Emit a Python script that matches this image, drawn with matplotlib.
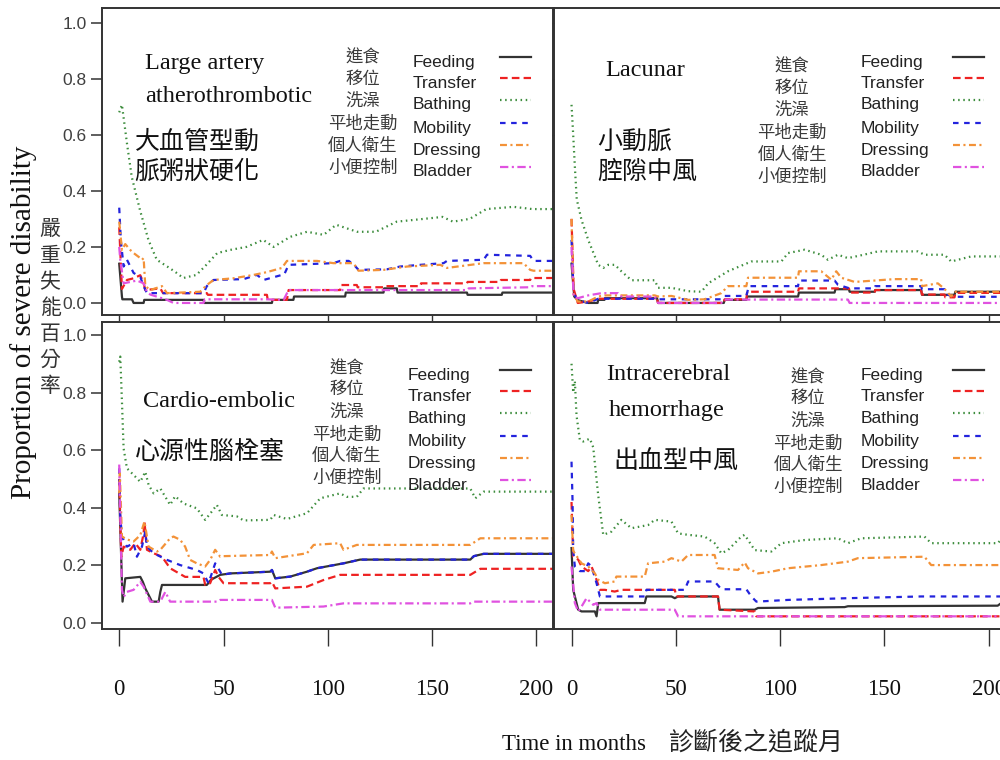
"""Severe disability proportion by stroke subtype, six ADL items (2x2 panels)."""

import matplotlib
matplotlib.use("Agg")
import matplotlib.pyplot as plt
from matplotlib import font_manager
from matplotlib.lines import Line2D

W, H = 1000, 760

# (months, proportion) vertices
TL_FEEDING = [(0, .14), (1.3, .023), (1.5, .013), (6.1, .013), (6.9, 0), (11.7, 0), (12, .011), (40.4, .011),
              (40.8, 0), (73.2, 0), (73.5, .011), (83.5, .011), (83.8, .023), (108.3, .023), (108.6, .037),
              (126.7, .037), (127, .052), (133.1, .052), (133.4, .037), (166.7, .037), (167, .029),
              (183.4, .029), (183.7, .037), (210, .037)]
TL_TRANSFER = [(0, .27), (1.3, .05), (3.7, .082), (6.9, .088), (10.1, .099), (11.7, .07), (12.5, .046),
               (19.7, .052), (21, .035), (42, .035), (42.5, .029), (70.8, .029), (71.2, .011), (80.4, .011),
               (81.2, .046), (105.9, .046), (106.3, .064), (113.9, .064), (114.3, .056), (126.7, .056),
               (127, .06), (144.3, .06), (144.7, .07), (166.7, .07), (167, .075), (182.6, .075), (183, .082),
               (197, .082), (197.4, .089), (210, .089)]
TL_BATHING = [(0, .68), (1.3, .707), (3.7, .57), (6, .45), (10, .33), (14, .225), (18, .154), (23, .13),
              (27, .11), (30.7, .089), (37, .1), (41, .13), (47, .178), (53, .189), (61, .2), (69, .225),
              (74, .2), (82, .236), (90, .254), (98, .243), (104, .279), (114, .254), (123, .254), (133, .29),
              (146, .30), (155, .307), (160, .29), (168, .30), (176, .335), (189, .343), (198, .335), (210, .335)]
TL_MOBILITY = [(0, .34), (0.8, .22), (2.1, .13), (3.7, .154), (6.9, .107), (10.1, .093), (11.7, .06),
               (13.3, .035), (40.4, .035), (42, .06), (45.2, .082), (59.6, .085), (66, .1), (69.2, .082),
               (78, .1), (79, .1), (81.2, .136), (102.7, .142), (105.9, .15), (110, .15), (112.3, .138),
               (114.7, .118), (128.3, .12), (134.7, .13), (144.3, .136), (155.5, .142), (157.1, .15),
               (174.7, .154), (176.3, .172), (197, .168), (198.6, .15), (210, .15)]
TL_DRESSING = [(0, .29), (1.3, .189), (2.9, .21), (5.3, .189), (6.9, .178), (10.1, .16), (10.9, .154),
               (11.7, .16), (12.5, .06), (14.9, .046), (20.5, .06), (22.9, .035), (38.8, .04), (42, .064),
               (45.2, .082), (54.8, .088), (64.4, .1), (70.8, .11), (78, .125), (80.4, .15), (94.8, .15),
               (102.7, .142), (112.3, .142), (114.7, .115), (126.7, .118), (138, .13), (153.9, .136),
               (157.1, .125), (174.7, .142), (193.8, .142), (197, .118), (198.6, .115), (210, .115)]
TL_BLADDER = [(0, .2), (0.5, .154), (2.1, .07), (5.3, .075), (8.5, .08), (11.7, .07), (13.3, .04), (14.9, .03),
              (22.9, .011), (26, 0), (40.4, 0), (41, .013), (70.8, .013), (78.8, .011), (81.2, .046),
              (166.7, .046), (167.5, .052), (197, .056), (198, .06), (210, .06)]

TR_FEEDING = [(0, .14), (1.3, .023), (3, .01), (8, 0), (12.5, 0), (12.8, .011), (15.8, .011), (16, .017),
              (41, .017), (41.5, 0), (73, 0), (73.4, .011), (83.8, .011), (84.2, .023), (108.6, .023),
              (109, .037), (126.1, .037), (126.5, .049), (133, .049), (133.3, .04), (145.3, .04), (145.6, .046),
              (167.6, .046), (168, .029), (183.6, .029), (184, .04), (210, .04)]
TR_TRANSFER = [(0, .30), (1, .05), (3, 0), (8, .005), (12.8, .015), (41, .015), (41.5, 0), (73, 0),
               (73.4, .013), (83.8, .013), (84.2, .04), (108.6, .04), (109, .052), (133, .052), (133.3, .037),
               (145.3, .037), (145.6, .046), (167.6, .046), (168, .03), (178.8, .03), (179.2, .02), (183.6, .02),
               (184, .036), (210, .036)]
TR_BATHING = [(0, .707), (0.8, .6), (1.6, .486), (2.5, .37), (4.8, .296), (8, .225), (12.8, .136),
              (15.2, .125), (17.6, .136), (20.8, .136), (23.9, .113), (28.7, .081), (39.9, .081), (41.5, .054),
              (47.9, .054), (55.9, .042), (62.3, .04), (65.5, .07), (75, .113), (86.2, .148), (100.6, .148),
              (103.8, .178), (111.8, .19), (119.7, .172), (122.9, .154), (127.7, .172), (132.5, .16),
              (140, .172), (146.9, .184), (166, .184), (169.2, .172), (178.8, .172), (182, .148),
              (191.6, .166), (210, .166)]
TR_MOBILITY = [(0, .225), (1, .035), (3, .01), (8, 0), (12.8, .015), (39.9, .015), (41.5, .013), (71.8, .013),
               (73.4, .025), (83.8, .025), (85, .06), (108.6, .06), (109, .08), (126.1, .08), (127.7, .065),
               (133.3, .052), (145.3, .052), (145.6, .06), (167.6, .06), (168, .049), (178.8, .049),
               (180.4, .029), (183.6, .022), (210, .022)]
TR_DRESSING = [(0, .30), (1, .03), (3, .005), (8, .005), (12.8, .023), (16, .027), (39.9, .027), (41.5, .023),
               (47.9, .025), (55.9, .011), (63.8, .013), (71.8, .035), (75, .06), (83.8, .06), (84.6, .09),
               (108.6, .09), (109, .113), (119.7, .113), (124.5, .083), (126.9, .113), (129.3, .09),
               (135.7, .075), (145.3, .08), (154.8, .085), (167.6, .085), (168, .06), (175.6, .07),
               (178.8, .05), (182, .023), (183.6, .04), (210, .04)]
TR_BLADDER = [(0, .2), (1, .023), (3, .017), (8, .027), (14.4, .035), (22.3, .035), (23.9, .023), (39.9, .023),
              (41.5, 0), (71.8, 0), (73.4, .012), (132.5, .012), (133.3, 0), (210, 0)]

BL_FEEDING = [(0, .45), (1.6, .074), (2.9, .155), (10.1, .16), (11.3, .143), (12.5, .12), (15.7, .074),
              (18.9, .074), (19.7, .108), (20.5, .132), (42, .132), (44, .15), (48.4, .167), (53.2, .172),
              (72.4, .178), (73.2, .184), (74.8, .155), (82, .161), (90, .178), (94.8, .19), (107.5, .207),
              (115.5, .22), (168.3, .22), (170, .232), (174.7, .24), (210, .24)]
BL_TRANSFER = [(0, .5), (1, .23), (2.1, .265), (5.3, .254), (7.7, .277), (10.1, .254), (11.7, .311),
               (12.1, .352), (13.3, .254), (16.5, .242), (20.5, .23), (24.4, .19), (31.6, .16), (40.4, .16),
               (41.2, .132), (43.6, .138), (46, .184), (47.6, .16), (50, .138), (72.4, .138), (73.2, .143),
               (74.8, .12), (90, .126), (97.9, .149), (105.9, .167), (168.3, .167), (173.1, .188), (210, .188)]
BL_BATHING = [(0, .907), (0.5, .925), (1.3, .77), (2.1, .606), (3.7, .537), (6.9, .514), (10.1, .49),
              (12.5, .525), (14.1, .479), (16.5, .45), (19.7, .467), (24.4, .41), (26.8, .44), (30.8, .415),
              (37.2, .398), (41.2, .358), (44.4, .387), (46.8, .41), (49.2, .375), (56.4, .37), (59.6, .356),
              (72.4, .358), (74, .375), (80.4, .361), (90, .381), (96.4, .433), (105.9, .45), (109.1, .438),
              (113.9, .438), (117.1, .467), (168.3, .467), (170.7, .433), (174.7, .456), (210, .456)]
BL_MOBILITY = [(0, .537), (0.5, .37), (1.3, .30), (3.7, .265), (6.9, .277), (8.5, .23), (10.9, .265),
               (12.5, .317), (13.3, .265), (16.5, .242), (22.9, .219), (29.2, .201), (37.2, .184), (40.4, .172),
               (42.8, .138), (46, .207), (48.4, .178), (49.2, .167), (53.2, .172), (72.4, .178), (73.2, .184),
               (74.8, .155), (82, .161), (90, .178), (94.8, .19), (107.5, .207), (115.5, .22), (168.3, .22),
               (170, .232), (174.7, .24), (210, .24)]
BL_DRESSING = [(0, .45), (0.3, .52), (1.3, .30), (3.7, .29), (6.9, .283), (10.1, .305), (12.1, .352),
               (14.1, .265), (18.1, .248), (19.7, .254), (24.4, .294), (26, .3), (29.2, .289), (31.6, .265),
               (34, .219), (37.2, .207), (41.2, .196), (43.6, .219), (46, .254), (48.4, .23), (50, .232),
               (72.4, .236), (73.2, .248), (74.8, .225), (90, .242), (93.2, .271), (105.9, .277), (107.5, .254),
               (113.9, .271), (168.3, .271), (173.1, .294), (210, .294)]
BL_BLADDER = [(0, .55), (1.3, .115), (2.1, .09), (3.7, .108), (6.9, .115), (10.1, .143), (11.7, .126),
              (14.9, .074), (19.7, .074), (22.1, .108), (24.4, .074), (46.8, .074), (48.4, .08), (73.2, .08),
              (74.8, .053), (97.9, .057), (107.5, .068), (168.3, .068), (169.9, .074), (210, .074)]

BR_FEEDING = [(0, .26), (0.8, .115), (1.6, .092), (3.2, .046), (4.8, .04), (11.2, .04), (12, .023),
              (12.8, .069), (35.1, .069), (35.9, .092), (47.9, .092), (49.5, .086), (51.1, .092), (70.2, .092),
              (71, .046), (87.8, .046), (89.4, .052), (130.9, .055), (132.5, .058), (204.3, .06), (206, .069),
              (210, .069)]
BR_TRANSFER = [(0, .42), (0.8, .23), (3.2, .22), (4.8, .196), (8, .18), (9.6, .196), (12, .15), (13.6, .115),
               (16, .115), (20.7, .109), (23.9, .115), (49.5, .115), (50.3, .092), (70.2, .092), (71, .046),
               (87.8, .04), (88.6, .023), (210, .023)]
BR_BATHING = [(0, .90), (0.8, .80), (1.6, .84), (2.4, .72), (4, .635), (5.6, .63), (8.8, .64), (10.4, .61),
              (12.8, .443), (15.2, .306), (19.1, .317), (23.9, .358), (28.7, .329), (36.7, .34), (39.9, .358),
              (47.9, .352), (51.1, .311), (55.9, .306), (63.8, .3), (68.6, .277), (71.8, .242), (75, .253),
              (81.4, .3), (83, .306), (87.8, .253), (95.8, .248), (100.6, .277), (111.8, .288), (127.7, .294),
              (132.5, .277), (138.9, .294), (169.2, .3), (172.4, .277), (204.3, .277), (206, .29), (210, .29)]
BR_MOBILITY = [(0, .56), (0.5, .42), (0.8, .25), (1.6, .196), (4, .18), (6.4, .18), (8, .207), (9.6, .196),
               (12, .138), (13.6, .092), (35.1, .092), (35.9, .115), (54.3, .115), (55.9, .144), (68.6, .144),
               (71.8, .117), (83.8, .117), (86.2, .092), (88.6, .074), (103.8, .08), (132.5, .086),
               (167.6, .092), (210, .092)]
BR_DRESSING = [(0, .375), (0.8, .25), (4.8, .207), (8, .196), (11.2, .172), (12.8, .15), (16, .138),
               (20.7, .144), (21.5, .161), (35.1, .161), (36.7, .207), (44.7, .213), (47.9, .225), (52.7, .213),
               (55.9, .236), (68.6, .236), (70.2, .19), (79.8, .184), (83, .21), (84.6, .19), (89.4, .172),
               (95.8, .178), (103.8, .19), (119.7, .201), (132.5, .213), (137.3, .225), (169.2, .23),
               (172.4, .201), (210, .201)]
BR_BLADDER = [(0, .196), (1.6, .069), (3.2, .04), (4.8, .057), (7.2, .086), (8, .08), (10.4, .063), (12, .069),
              (13.6, .046), (49.5, .046), (51.1, .023), (210, .023)]

ITEMS_EN = ["Feeding", "Transfer", "Bathing", "Mobility", "Dressing", "Bladder"]
ITEMS_ZH = ["進食", "移位", "洗澡", "平地走動", "個人衛生", "小便控制"]
X_TICKS = [0, 50, 100, 150, 200]
Y_TICKS = [0.0, 0.2, 0.4, 0.6, 0.8, 1.0]
Y_TICK_LABELS = ["0.0", "0.2", "0.4", "0.6", "0.8", "1.0"]

COLORS = ["#333333", "#ee2222", "#3d8d3d", "#2323dd", "#f39238", "#e052e0"]
STYLES = ["-", (0, (5.5, 3)), (0, (1.1, 2.6)), (0, (4, 4)), (0, (5, 2.5, 1.5, 2.5)), (0, (6, 2.5, 1.5, 2.5))]

names = {f.name for f in font_manager.fontManager.ttflist}
NARROW = "Liberation Sans Narrow" in names
SANS = ["Liberation Sans Narrow"] if NARROW else ["Liberation Sans", "DejaVu Sans"]
SERIF = ["Liberation Serif", "DejaVu Serif"]
CJK = ["Noto Sans CJK TC", "DejaVu Sans"]
LEG_SIZE = 15 if NARROW else 12.5
YT_SIZE = 14 if NARROW else 12.5

plt.rcParams["lines.scale_dashes"] = False

# panel layout in pixels: left, top, right, bottom; texts are offsets from the panel's top-left
PANELS = [
    dict(rect=(101.7, 8, 552.7, 315), ylim=(-0.043, 1.0525), ylab=True, xlab=False,
         series=[TL_FEEDING, TL_TRANSFER, TL_BATHING, TL_MOBILITY, TL_DRESSING, TL_BLADDER],
         en=[("Large artery", 43, 55), ("atherothrombotic", 43, 89)],
         zh=[("大血管型動", 33, 134), ("脈粥狀硬化", 33, 164)],
         leg_en=(311, 54), leg_zh=(261, 50), leg_ln=(398, 49)),
    dict(rect=(554, 8, 1005, 315), ylim=(-0.043, 1.0525), ylab=False, xlab=False,
         series=[TR_FEEDING, TR_TRANSFER, TR_BATHING, TR_MOBILITY, TR_DRESSING, TR_BLADDER],
         en=[("Lacunar", 51, 62)],
         zh=[("小動脈", 43, 135), ("腔隙中風", 43, 164)],
         leg_en=(307, 54), leg_zh=(238, 59), leg_ln=(399, 49)),
    dict(rect=(101.7, 322.3, 552.7, 629), ylim=(-0.021, 1.044), ylab=True, xlab=True,
         series=[BL_FEEDING, BL_TRANSFER, BL_BATHING, BL_MOBILITY, BL_DRESSING, BL_BLADDER],
         en=[("Cardio-embolic", 41, 79)],
         zh=[("心源性腦栓塞", 33, 130)],
         leg_en=(306, 53), leg_zh=(245, 46), leg_ln=(398, 48)),
    dict(rect=(554, 322.3, 1005, 629), ylim=(-0.021, 1.044), ylab=False, xlab=True,
         series=[BR_FEEDING, BR_TRANSFER, BR_BATHING, BR_MOBILITY, BR_DRESSING, BR_BLADDER],
         en=[("Intracerebral", 52, 52), ("hemorrhage", 55, 88)],
         zh=[("出血型中風", 59, 140)],
         leg_en=(307, 53), leg_zh=(254, 55), leg_ln=(399, 48)),
]
ROWS = [0, 21, 43, 66, 88, 110]


def fx(x):
    return x / W


def fy(y):
    return 1 - y / H


fig = plt.figure(figsize=(W / 100, H / 100), dpi=100)

for p in PANELS:
    l, t, r, b = p["rect"]
    ax = fig.add_axes([fx(l), fy(b), (r - l) / W, (b - t) / H])
    for ser, c, ls in zip(p["series"], COLORS, STYLES):
        xs, ys = zip(*ser)
        ax.plot(xs, ys, color=c, ls=ls, lw=1.6)
    ax.set_xlim(-8.4, 207.8)
    ax.set_ylim(*p["ylim"])
    for s in ax.spines.values():
        s.set_color("#333333")
        s.set_linewidth(1.4)
    ax.set_yticks(Y_TICKS)
    ax.set_xticks(X_TICKS)
    if p["ylab"]:
        ax.set_yticklabels(Y_TICK_LABELS, family=SANS, fontsize=YT_SIZE, color="#404040")
        ax.tick_params(axis="y", length=8, width=1.1, color="#333333", pad=3)
    else:
        ax.set_yticklabels([])
        ax.tick_params(axis="y", length=1.5, width=1, color="#333333")
    if p["xlab"]:
        ax.set_xticklabels([str(v) for v in X_TICKS], family=SERIF, fontsize=16.5, color="#111111")
        ax.tick_params(axis="x", length=12, width=1, color="#333333", pad=24)
    else:
        ax.set_xticklabels([])
        ax.tick_params(axis="x", length=4, width=1, color="#333333")

    for txt, dx, dy in p["en"]:
        fig.text(fx(l + dx), fy(t + dy), txt, family=SERIF, fontsize=17.5, color="#111111",
                 ha="left", va="center")
    for txt, dx, dy in p["zh"]:
        fig.text(fx(l + dx), fy(t + dy), txt, family=CJK, fontsize=18, color="#111111",
                 ha="left", va="center")
    ex, ey = p["leg_en"]
    zx, zy = p["leg_zh"]
    lx, ly = p["leg_ln"]
    for i, (en, zh) in enumerate(zip(ITEMS_EN, ITEMS_ZH)):
        fig.text(fx(l + ex), fy(t + ey + ROWS[i]), en, family=SANS, fontsize=LEG_SIZE,
                 color="#222222", ha="left", va="center")
        fig.text(fx(l + zx), fy(t + zy + ROWS[i]), zh, family=CJK, fontsize=12.5,
                 color="#3a3a3a", ha="center", va="center")
        yy = fy(t + ly + ROWS[i])
        fig.add_artist(Line2D([fx(l + lx), fx(l + lx + 31)], [yy, yy], transform=fig.transFigure,
                              color=COLORS[i], ls=STYLES[i], lw=1.6))

# axis titles
fig.text(fx(24), fy(322), "Proportion of severe disability", family=SERIF, fontsize=21,
         rotation=90, ha="center", va="center", color="#111111")
for i, ch in enumerate("嚴重失能百分率"):
    fig.text(fx(50), fy(230 + 26 * i), ch, family=CJK, fontsize=15, color="#333333",
             ha="center", va="center")
fig.text(fx(574), fy(745), "Time in months", family=SERIF, fontsize=16.5, ha="center", va="center",
         color="#111111")
fig.text(fx(756), fy(742), "診斷後之追蹤月", family=CJK, fontsize=18, ha="center", va="center",
         color="#222222")

fig.savefig("out.png", dpi=100)
